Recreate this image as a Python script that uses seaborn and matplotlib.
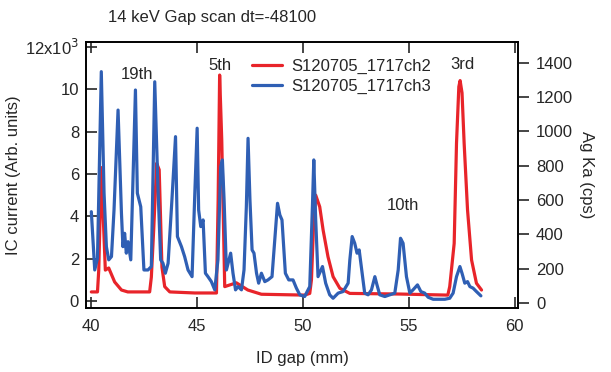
import matplotlib
matplotlib.use("Agg")
import matplotlib.pyplot as plt
import matplotlib.ticker as mticker
import pandas as pd
import seaborn as sns


# IC current (ch2), values in units of 10^3
ch2_gap = [40.03, 40.32, 40.38, 40.50, 40.69, 40.85, 41.13, 41.45, 41.75, 42.78,
           42.86, 42.97, 43.11, 43.23, 43.36, 43.49, 43.73, 44.91, 45.93, 46.01,
           46.08, 46.18, 46.32, 46.56, 46.87, 47.41, 48.05, 50.09, 50.33, 50.41,
           50.50, 50.61, 50.80, 50.96, 51.19, 51.43, 51.75, 52.22, 54.58, 56.84,
           56.93, 57.14, 57.25, 57.36, 57.42, 57.51, 57.61, 57.77, 57.96, 58.19,
           58.43]
ch2_current_k = [0.43, 0.43, 1.46, 6.30, 1.46, 1.56, 0.90, 0.52, 0.43, 0.43,
                 1.13, 3.35, 6.50, 6.20, 1.60, 0.68, 0.43, 0.38, 0.38, 4.77,
                 10.67, 7.60, 0.68, 0.76, 0.86, 0.52, 0.32, 0.28, 0.36, 1.00,
                 3.35, 5.00, 4.45, 3.35, 2.09, 1.15, 0.60, 0.36, 0.33, 0.28,
                 0.68, 2.72, 7.45, 10.12, 10.41, 9.83, 7.45, 4.30, 1.94, 0.84,
                 0.52]

# Ag Ka fluorescence (ch3), cps
ch3_gap = [40.03, 40.19, 40.32, 40.50, 40.63, 40.74, 40.85, 40.98, 41.10, 41.29,
           41.45, 41.52, 41.60, 41.68, 41.76, 41.89, 42.11, 42.20, 42.36, 42.51,
           42.70, 42.86, 43.02, 43.17, 43.30, 43.41, 43.52, 43.65, 43.83, 44.00,
           44.09, 44.28, 44.43, 44.59, 44.78, 44.91, 45.02, 45.09, 45.19, 45.30,
           45.41, 45.53, 45.69, 45.85, 46.00, 46.13, 46.21, 46.29, 46.40, 46.52,
           46.60, 46.71, 46.83, 46.95, 47.11, 47.23, 47.34, 47.42, 47.51, 47.61,
           47.70, 47.82, 47.92, 48.05, 48.21, 48.36, 48.55, 48.68, 48.81, 48.92,
           49.02, 49.18, 49.34, 49.54, 49.70, 49.86, 50.09, 50.17, 50.33, 50.46,
           50.52, 50.61, 50.72, 50.93, 51.08, 51.27, 51.43, 51.67, 51.90, 52.14,
           52.22, 52.33, 52.45, 52.56, 52.66, 52.82, 52.92, 53.08, 53.24, 53.40,
           53.50, 53.63, 53.87, 54.10, 54.34, 54.50, 54.61, 54.73, 54.89, 55.05,
           55.20, 55.41, 55.57, 55.75, 55.91, 56.15, 56.70, 56.93, 57.09, 57.25,
           57.41, 57.51, 57.64, 57.77, 57.88, 58.03, 58.19, 58.40]
ch3_cps = [532, 192, 260, 1349, 640, 328, 251, 270, 542, 1125,
           523, 328, 406, 290, 357, 251, 1242, 640, 561, 192,
           192, 212, 1290, 678, 251, 231, 173, 231, 600, 970,
           387, 328, 270, 192, 153, 640, 1019, 542, 445, 484,
           173, 153, 124, 76, 251, 795, 834, 600, 192, 251,
           290, 173, 76, 95, 76, 192, 561, 960, 600, 309,
           290, 173, 115, 173, 124, 134, 153, 367, 581, 513,
           484, 173, 134, 134, 86, 47, 37, 57, 95, 581,
           834, 484, 153, 212, 115, 47, 27, 57, 66, 115,
           251, 387, 348, 290, 309, 153, 57, 47, 76, 153,
           105, 47, 37, 47, 57, 192, 377, 348, 153, 57,
           76, 105, 66, 57, 33, 21, 21, 27, 57, 153,
           212, 173, 115, 124, 95, 86, 66, 41]

left_ticks = [0, 2000, 4000, 6000, 8000, 10000, 12000]
left_tick_labels = ["0", "2", "4", "6", "8", "10", "12x10$^3$"]
right_ticks = [0, 200, 400, 600, 800, 1000, 1200, 1400]
gap_ticks = [40, 45, 50, 55, 60]

# harmonic labels: (text, gap, current)
harmonics = [("19th", 42.17, 10680), ("5th", 46.08, 11100),
             ("10th", 54.72, 4490), ("3rd", 57.55, 11150)]

RED = "#e8242a"
BLUE = "#2f5fb4"
FS = 12


def main():
    sns.set_style("ticks")
    plt.rcParams["font.family"] = ["Liberation Sans", "DejaVu Sans"]
    plt.rcParams["axes.linewidth"] = 1.2

    fig = plt.figure(figsize=(6.11, 3.72), dpi=100)
    ax = fig.add_axes([0.1408, 0.172, 0.707, 0.715])
    ax2 = ax.twinx()

    df2 = pd.DataFrame({"gap": ch2_gap,
                        "current": [v * 1000 for v in ch2_current_k]})
    df3 = pd.DataFrame({"gap": ch3_gap, "cps": ch3_cps})

    sns.lineplot(data=df2, x="gap", y="current", ax=ax, color=RED,
                 linewidth=2.3, sort=False, estimator=None,
                 label="S120705_1717ch2", legend=False)
    sns.lineplot(data=df3, x="gap", y="cps", ax=ax2, color=BLUE,
                 linewidth=2.3, sort=False, estimator=None,
                 label="S120705_1717ch3", legend=False)

    ax.set_xlim(39.78, 60.15)
    ax.set_ylim(-330, 12230)
    ax2.set_ylim(-30, 1522)

    ax.set_xticks(gap_ticks)
    ax.set_xticklabels([str(t) for t in gap_ticks])
    ax.yaxis.set_major_locator(mticker.FixedLocator(left_ticks))
    ax.yaxis.set_major_formatter(mticker.FixedFormatter(left_tick_labels))
    ax2.set_yticks(right_ticks)

    ax.tick_params(axis="x", direction="in", top=True, length=8, width=1.2,
                   pad=8, labelsize=FS)
    ax.tick_params(axis="y", direction="in", right=False, length=8,
                   width=1.2, pad=5, labelsize=FS)
    ax2.tick_params(axis="y", direction="out", length=8, width=1.2, pad=5,
                    labelsize=FS)

    for a in (ax, ax2):
        for s in a.spines.values():
            s.set_visible(True)
            s.set_color("black")
            s.set_linewidth(1.2)

    ax.set_xlabel("ID gap (mm)", fontsize=FS, labelpad=12)
    ax.set_ylabel("IC current (Arb. units)", fontsize=FS)
    ax.yaxis.set_label_coords(-0.15, 0.5)
    ax2.set_ylabel("Ag Ka (cps)", fontsize=FS, rotation=270, labelpad=15)

    fig.text(0.177, 0.952, "14 keV Gap scan dt=-48100", fontsize=FS,
             ha="left", va="center")

    for text, gx, gy in harmonics:
        ax.text(gx, gy, text, fontsize=FS, ha="center", va="center")

    handles = ax.get_lines()[:1] + ax2.get_lines()[:1]
    ax.legend(handles, [h.get_label() for h in handles],
              loc="upper left", bbox_to_anchor=(0.399, 0.865),
              bbox_transform=fig.transFigure, frameon=False, fontsize=FS,
              handlelength=1.8, handletextpad=0.55, labelspacing=0.3,
              borderpad=0.0)

    fig.savefig("out.png", dpi=100)
    plt.close(fig)


if __name__ == "__main__":
    main()
